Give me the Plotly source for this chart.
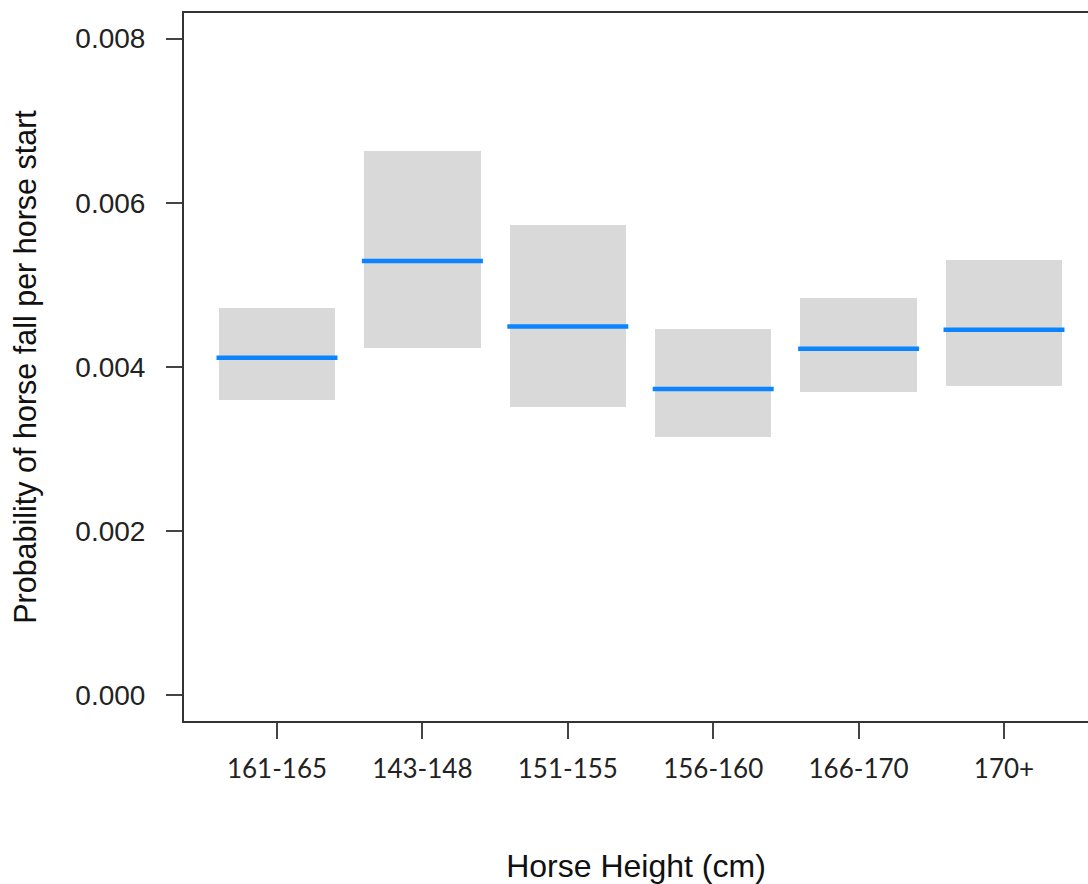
import plotly.graph_objects as go

# Horse height groups and modelled fall probability per start
categories = ["161-165", "143-148", "151-155", "156-160", "166-170", "170+"]
estimate = [0.00411, 0.00529, 0.00449, 0.00373, 0.00422, 0.00445]
lower_ci = [0.00360, 0.00423, 0.00351, 0.00314, 0.00369, 0.00376]
upper_ci = [0.00472, 0.00663, 0.00573, 0.00446, 0.00484, 0.00530]
y_ticks = [0.000, 0.002, 0.004, 0.006, 0.008]

positions = list(range(1, len(categories) + 1))
half_width = 0.4

fig = go.Figure()

# Confidence interval boxes
fig.add_trace(go.Bar(
    x=positions,
    y=[u - l for u, l in zip(upper_ci, lower_ci)],
    base=lower_ci,
    width=2 * half_width,
    marker=dict(color="#D9D9D9", line=dict(width=0)),
    hoverinfo="skip",
    showlegend=False,
))

# Point estimates as horizontal segments
seg_x, seg_y = [], []
for p, e in zip(positions, estimate):
    seg_x += [p - half_width * 1.04, p + half_width * 1.04, None]
    seg_y += [e, e, None]
fig.add_trace(go.Scatter(
    x=seg_x, y=seg_y, mode="lines",
    line=dict(color="#0A85FF", width=4.5),
    showlegend=False,
))

fig.update_layout(
    width=1088, height=884,
    margin=dict(l=184, r=0, t=13, b=163),
    paper_bgcolor="white", plot_bgcolor="white",
    bargap=0,
    font=dict(family="Liberation Sans, Arial, sans-serif", color="#222222"),
)

fig.update_xaxes(
    range=[0.3604, 6.5777],
    tickmode="array", tickvals=positions, ticktext=categories,
    tickfont=dict(family="Lato, sans-serif", size=26, color="#222222"),
    ticks="outside", ticklen=16, tickwidth=2, tickcolor="#444444",
    ticklabelstandoff=8,
    showline=True, linecolor="#333333", linewidth=2, mirror=True,
    showgrid=False, zeroline=False,
    title=dict(text="Horse Height (cm)", font=dict(size=32, color="#111111"), standoff=72),
)

fig.update_yaxes(
    range=[-0.000317, 0.008312],
    tickmode="array", tickvals=y_ticks, ticktext=[f"{v:.3f}" for v in y_ticks],
    tickfont=dict(size=28, color="#222222"),
    ticks="outside", ticklen=16, tickwidth=2, tickcolor="#444444",
    ticklabelstandoff=15,
    showline=True, linecolor="#333333", linewidth=2, mirror=False,
    showgrid=False, zeroline=False,
    title=dict(text="Probability of horse fall per horse start", font=dict(size=30.5, color="#111111"), standoff=30),
)

fig.write_html("out.html")
